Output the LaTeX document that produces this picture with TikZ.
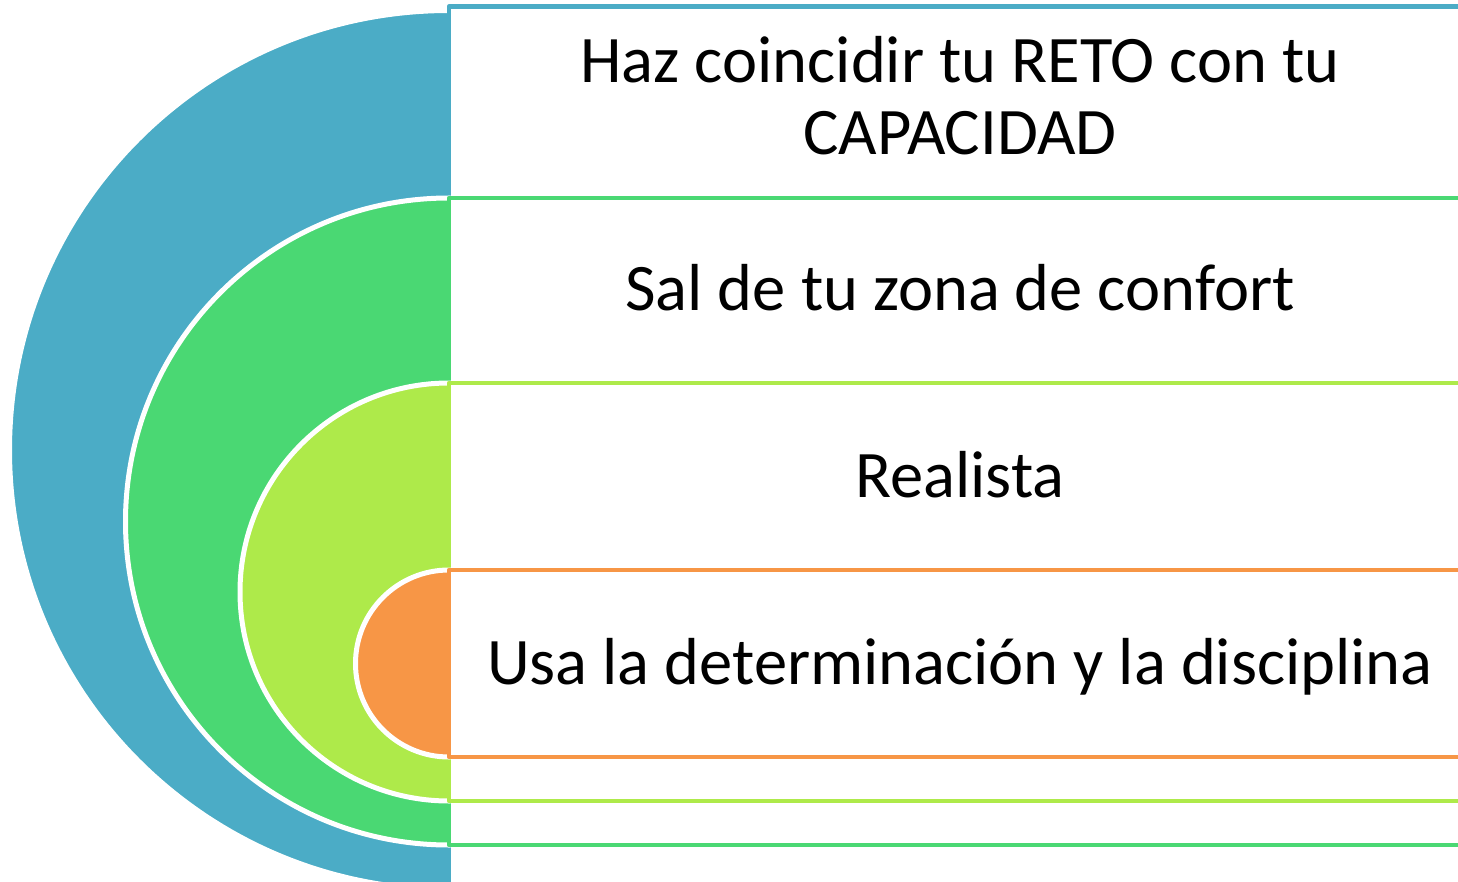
\documentclass[tikz,border=0pt]{standalone}
\usepackage{fontspec}
\setmainfont{Carlito}
\definecolor{tblue}{HTML}{4BACC6}
\definecolor{tgreen}{HTML}{4AD873}
\definecolor{tlime}{HTML}{AEEA4A}
\definecolor{torange}{HTML}{F79646}

\begin{document}
\begin{tikzpicture}[x=1pt,y=-1pt,
  band/.style={fill=white,line width=4.5pt,line join=round},
  disc/.style={draw=white,line width=5pt},
  lbl/.style={anchor=base,font=\fontsize{66.5}{72}\selectfont,align=center}]
\useasboundingbox (0,0) rectangle (1458,882);
% outer level
\draw[disc,fill=tblue] (449,450) circle (439.5pt);
\draw[band,draw=tblue] (449,6.5) rectangle (1475,893.5);
% second level
\draw[disc,fill=tgreen] (449,521.5) circle (323.5pt);
\draw[band,draw=tgreen] (449,198) rectangle (1475,845);
% third level
\draw[disc,fill=tlime] (449,592) circle (209pt);
\draw[band,draw=tlime] (449,383) rectangle (1475,801);
% inner level
\draw[disc,fill=torange] (449,663.5) circle (93.5pt);
\draw[band,draw=torange] (449,570) rectangle (1475,757);

\node[lbl] (reto) at (960,155) {Haz coincidir tu RETO con tu\\CAPACIDAD};
\node[lbl] (confort) at (960,311) {Sal de tu zona de confort};
\node[lbl] (realista) at (960,497) {Realista};
\node[lbl] (disciplina) at (960,684) {Usa la determinación y la disciplina};

\end{tikzpicture}
\end{document}
